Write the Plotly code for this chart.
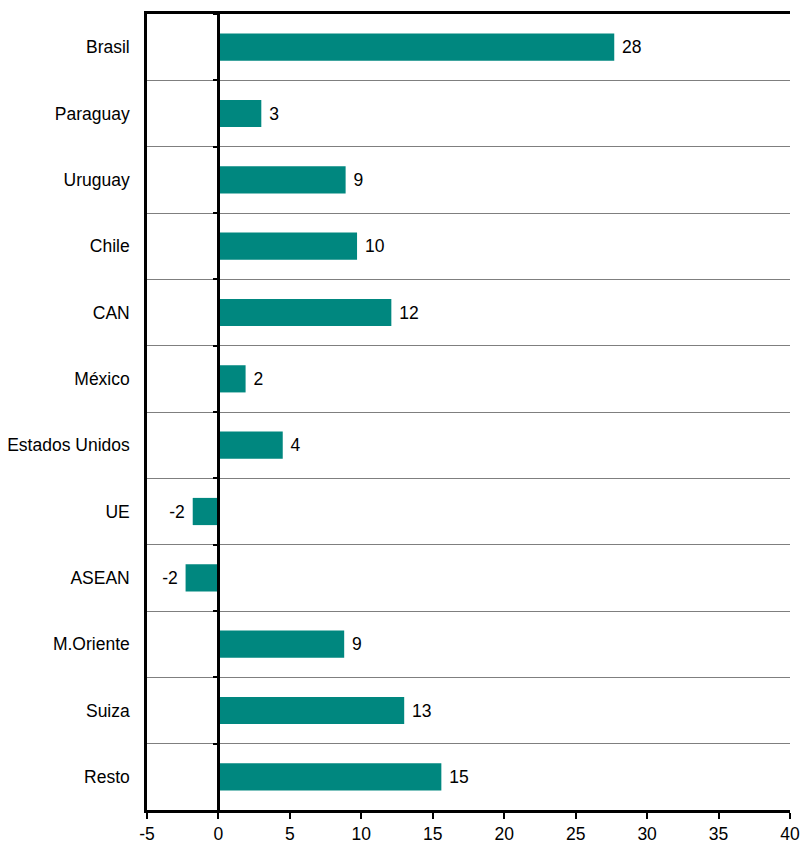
import plotly.graph_objects as go

categories = ["Brasil", "Paraguay", "Uruguay", "Chile", "CAN", "México",
              "Estados Unidos", "UE", "ASEAN", "M.Oriente", "Suiza", "Resto"]
values = [27.7, 3.0, 8.9, 9.7, 12.1, 1.9, 4.5, -1.8, -2.3, 8.8, 13.0, 15.6]
value_labels = ["28", "3", "9", "10", "12", "2", "4", "-2", "-2", "9", "13", "15"]
x_ticks = [-5, 0, 5, 10, 15, 20, 25, 30, 35, 40]

FONT = "Liberation Sans, Arial, sans-serif"
FS = 17.5
BAR_COLOR = "#00877f"

fig = go.Figure()
fig.add_trace(go.Bar(
    y=categories, x=values, orientation="h",
    marker=dict(color=BAR_COLOR, line=dict(width=0)),
    width=0.41,
    text=[(" " + t) if v >= 0 else (t + " ") for t, v in zip(value_labels, values)],
    textposition="outside", constraintext="none", cliponaxis=False,
    textfont=dict(family=FONT, size=FS, color="black"),
    hoverinfo="skip",
))
# invisible trace carrying the zero-line axis with boundary ticks
fig.add_trace(go.Scatter(
    y=categories, x=[0] * len(categories), yaxis="y2",
    mode="markers", marker=dict(opacity=0), hoverinfo="skip", showlegend=False,
))

n = len(categories)
fig.update_layout(
    template="none",
    width=800, height=852,
    margin=dict(l=147, r=10, t=14, b=42, autoexpand=False),
    paper_bgcolor="white", plot_bgcolor="white",
    showlegend=False,
    font=dict(family=FONT, size=FS, color="black"),
    xaxis=dict(
        range=[-5, 40], tickvals=x_ticks, ticktext=[str(t) for t in x_ticks],
        showgrid=False, zeroline=False, automargin=False,
        showline=True, linecolor="black", linewidth=2.5, mirror=True,
        ticks="outside", ticklen=6, tickwidth=2, tickcolor="black",
        tickfont=dict(family=FONT, size=FS),
    ),
    yaxis=dict(
        type="category", categoryarray=categories, range=[n - 0.5, -0.5],
        tickson="boundaries", ticks="", showgrid=True, gridcolor="#7f7f7f", gridwidth=1,
        showline=True, linecolor="black", linewidth=2.5, zeroline=False, automargin=False,
        ticklabelstandoff=11,
        tickfont=dict(family=FONT, size=FS),
    ),
    yaxis2=dict(
        type="category", categoryarray=categories, range=[n - 0.5, -0.5],
        overlaying="y", anchor="free", position=5 / 45, side="left",
        tickson="boundaries", ticks="outside", ticklen=5, tickwidth=2, tickcolor="black",
        showticklabels=False, showgrid=False, zeroline=False, automargin=False,
        showline=True, linecolor="black", linewidth=2.5,
    ),
)

fig.write_html(
    "out.html",
    config={"displayModeBar": False},
    post_script="document.body.style.margin='0';document.body.style.overflow='hidden';",
)
